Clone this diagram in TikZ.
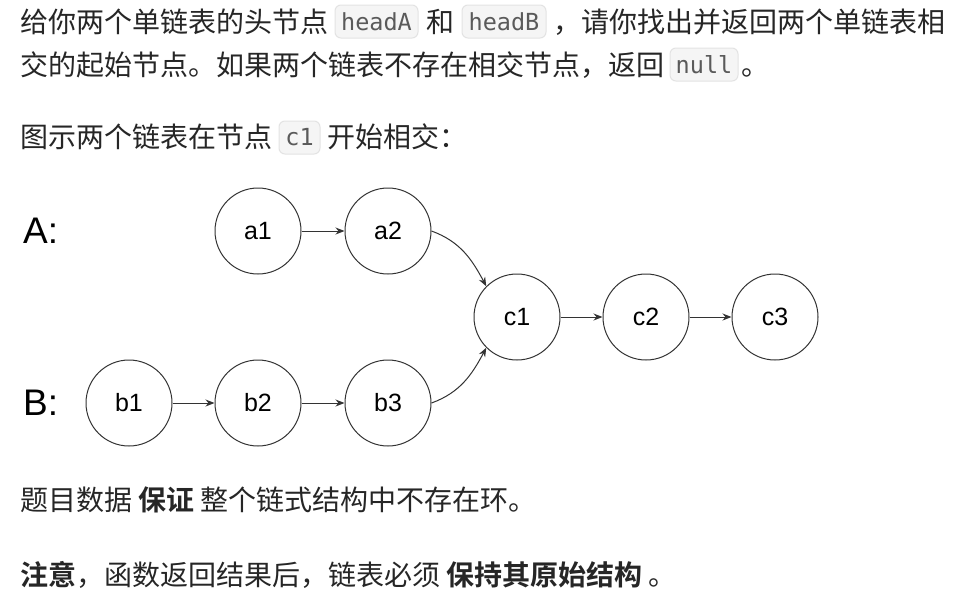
\documentclass[tikz,border=0pt]{standalone}
\usepackage{fontspec}
\setmainfont{Noto Sans CJK SC}[BoldFont={Noto Sans CJK SC Bold}]
\newfontfamily\codefont{DejaVu Sans Mono}
\newfontfamily\arialfont{Liberation Sans}
\usetikzlibrary{arrows.meta}
\definecolor{txt}{HTML}{262626}
\definecolor{codebg}{HTML}{F5F5F5}
\definecolor{codeborder}{HTML}{E3E3E3}
\definecolor{codetxt}{HTML}{5A5A5A}
\definecolor{ln}{HTML}{333333}
\tikzset{
  para/.style={anchor=base west, inner sep=0, text=txt, font=\fontsize{28}{30}\selectfont},
  codebox/.style={draw=codeborder, fill=codebg, rounded corners=6pt, line width=1pt,
    inner sep=0, minimum height=33pt, text=codetxt, font=\codefont\fontsize{23.5}{23.5}\selectfont},
  lnode/.style={circle, draw=ln, line width=1pt, minimum size=86pt, inner sep=0,
    text=black, font=\arialfont\fontsize{25}{25}\selectfont},
  lab/.style={anchor=west, inner sep=0, text=black, font=\arialfont\fontsize{37}{37}\selectfont},
  link/.style={draw=ln, line width=1pt, -{Stealth[length=9pt,width=7pt]}}
}
\begin{document}
\begin{tikzpicture}[x=1pt,y=-1pt]
\useasboundingbox (0,0) rectangle (955,603);
\fill[white] (0,0) rectangle (955,603);
% line 1
\node[para] (t1a) at (20,32.5) {给你两个单链表的头节点};
\node[codebox, minimum width=83pt] (hA) at (376.5,21.5) {headA};
\node[para] (t1b) at (426,32.5) {和};
\node[codebox, minimum width=84pt] (hB) at (504,21.5) {headB};
\node[para] (t1c) at (553,32.5) {，请你找出并返回两个单链表相};
% line 2
\node[para] (t2a) at (20,75.5) {交的起始节点。如果两个链表不存在相交节点，返回};
\node[codebox, minimum width=68pt] (nl) at (704,64.5) {null};
\node[para] (t2b) at (741,75.5) {。};
% line 3
\node[para] (t3a) at (20,147.5) {图示两个链表在节点};
\node[codebox, minimum width=41pt] (cc) at (299.5,137.5) {c1};
\node[para] (t3b) at (327,147.5) {开始相交：};
% diagram
\node[lab] (LA) at (23,231) {A:};
\node[lab] (LB) at (23,403) {B:};
\node[lnode] (a1) at (258,231) {a1};
\node[lnode] (a2) at (388,231) {a2};
\node[lnode] (c1) at (517,317) {c1};
\node[lnode] (c2) at (646,317) {c2};
\node[lnode] (c3) at (775,317) {c3};
\node[lnode] (b1) at (129,403) {b1};
\node[lnode] (b2) at (258,403) {b2};
\node[lnode] (b3) at (388,403) {b3};
\draw[link] (a1) -- (a2);
\draw[link] (c1) -- (c2);
\draw[link] (c2) -- (c3);
\draw[link] (b1) -- (b2);
\draw[link] (b2) -- (b3);
\draw[link] (a2.east) to[out=-20, in=118] (c1.135);
\draw[link] (b3.east) to[out=20, in=-118] (c1.-135);
% line 4
\node[para] (t4) at (20,510.5) {题目数据 \textbf{保证} 整个链式结构中不存在环。};
% line 5
\node[para] (t5) at (20,585.5) {\textbf{注意}，函数返回结果后，链表必须 \textbf{保持其原始结构} 。};
\end{tikzpicture}
\end{document}
